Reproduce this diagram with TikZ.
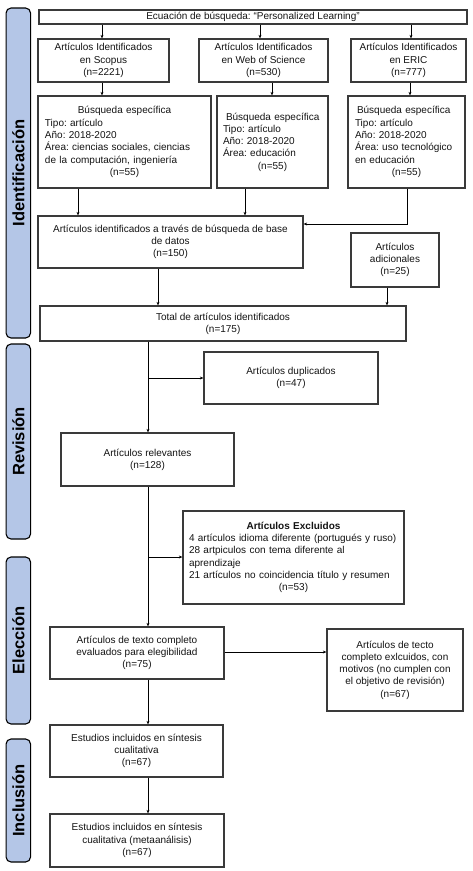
\documentclass[tikz,border=0pt]{standalone}
\usepackage{fontspec}
\setmainfont{Liberation Sans}
\usetikzlibrary{arrows.meta,calc}
\definecolor{boxgray}{HTML}{3A3A3A}
\definecolor{barblue}{HTML}{B4C6E7}
\definecolor{txtcol}{HTML}{141414}
\frenchspacing
\begin{document}
\frenchspacing
\begin{tikzpicture}[x=1pt,y=-1pt,
  box/.style={draw=boxgray,line width=1.3pt,inner sep=0pt,align=center,text=txtcol,
    font=\fontsize{10}{12.3}\selectfont},
  mixbox/.style={draw=boxgray,line width=1.3pt,inner sep=0pt,text=txtcol,
    font=\fontsize{10}{12.3}\selectfont},
  bar/.style={draw=black,line width=1.1pt,fill=barblue,rounded corners=5pt,rotate=90,
    inner sep=0pt,font=\bfseries\fontsize{16.5}{16.5}\selectfont},
  arr/.style={draw=black,line width=0.9pt,-{Stealth[length=3.5pt,width=3pt]}},
  ln/.style={draw=black,line width=0.9pt}]
\useasboundingbox (0,0) rectangle (472,871);
\fill[white] (0,0) rectangle (472,871);

% side bars
\node[bar,minimum width=330pt,minimum height=24.5pt] (b1) at (18.3,173) {Identificación};
\node[bar,minimum width=195pt,minimum height=24.5pt] (b2) at (18.3,441.5) {Revisión};
\node[bar,minimum width=167pt,minimum height=24.5pt] (b3) at (18.3,640.5) {Elección};
\node[bar,minimum width=123pt,minimum height=24.5pt] (b4) at (18.3,800.5) {Inclusión};

% boxes
\node[box,minimum width=428pt,minimum height=14pt] (top) at (253,17) {Ecuación de búsqueda: “Personalized Learning”};
\node[box,minimum width=131pt,minimum height=43pt] (sc) at (103.5,60.5) {Artículos Identificados\\en Scopus\\(n=2221)};
\node[box,minimum width=129pt,minimum height=43pt] (ws) at (263.5,60.5) {Artículos Identificados\\en Web of Science\\(n=530)};
\node[box,minimum width=115pt,minimum height=43pt] (er) at (408.5,60.5) {Artículos Identificados\\en ERIC\\(n=777)};

\node[mixbox,minimum width=173pt,minimum height=92pt,text width=159pt] (bs) at (124.5,142)
 {\parindent0pt\frenchspacing\centering Búsqueda específica\par\raggedright Tipo: artículo\par Año: 2018-2020\par Área: ciencias sociales, ciencias\par de la computación, ingeniería\par\centering (n=55)\par};
\node[mixbox,minimum width=111pt,minimum height=92pt,text width=99pt] (bw) at (272.5,142)
 {\parindent0pt\frenchspacing\raggedright\hspace*{3pt}Búsqueda específica\par Tipo: artículo\par Año: 2018-2020\par Área: educación\par\centering (n=55)\par};
\node[mixbox,minimum width=117pt,minimum height=92pt,text width=103pt] (be) at (406.5,142)
 {\parindent0pt\frenchspacing\raggedright\hspace*{2pt}Búsqueda específica\par Tipo: artículo\par Año: 2018-2020\par Área: uso tecnológico\par en educación\par\centering (n=55)\par};

\node[box,minimum width=265pt,minimum height=52pt] (db) at (170.5,242) {Artículos identificados a través de búsqueda de base\\de datos\\(n=150)};
\node[box,minimum width=88pt,minimum height=54pt] (ad) at (395,260) {Artículos\\adicionales\\(n=25)};
\node[box,minimum width=366pt,minimum height=35pt] (tot) at (223,323.5) {Total de artículos identificados\\(n=175)};

\node[box,minimum width=174pt,minimum height=52pt] (dup) at (291,378) {Artículos duplicados\\(n=47)};
\node[box,minimum width=173pt,minimum height=53pt] (rel) at (147.5,459.5) {Artículos relevantes\\(n=128)};
\node[mixbox,minimum width=221pt,minimum height=93pt,text width=209pt] (exc) at (293.5,557.5)
 {\parindent0pt\frenchspacing\centering\textbf{Artículos Excluidos}\par\raggedright 4 artículos idioma diferente (portugués y ruso)\par 28 artpiculos con tema diferente al\par aprendizaje\par 21 artículos no coincidencia título y resumen\par\centering (n=53)\par};

\node[box,minimum width=174pt,minimum height=52pt] (txt) at (137,653) {Artículos de texto completo\\evaluados para elegibilidad\\(n=75)};
\node[box,minimum width=136pt,minimum height=82pt] (rx) at (395,670) {Artículos de tecto\\completo exlcuidos, con\\motivos (no cumplen con\\el objetivo de revisión)\\(n=67)};
\node[box,minimum width=173pt,minimum height=52pt] (est) at (136.5,751) {Estudios incluidos en síntesis\\cualitativa\\(n=67)};
\node[box,minimum width=174pt,minimum height=53pt] (fin) at (137,840.5) {Estudios incluidos en síntesis\\cualitativa (metaanálisis)\\(n=67)};

% column coordinates
\coordinate (c1) at (102,0);
\coordinate (c2) at (260,0);
\coordinate (c3) at (411,0);
\coordinate (c4) at (272,0);
\coordinate (c5) at (410,0);
\coordinate (c6) at (78,0);
\coordinate (c7) at (245,0);
\coordinate (c8) at (407,0);
\coordinate (c9) at (158,0);
\coordinate (c10) at (387,0);
\coordinate (sp) at (148,0);
\coordinate (r1) at (0,224);
\coordinate (r2) at (0,378);
\coordinate (r3) at (0,557);
\coordinate (r4) at (0,652);

% connectors
\draw[arr] (top.south -| c1) -- (sc.north -| c1);
\draw[arr] (top.south -| c2) -- (ws.north -| c2);
\draw[arr] (top.south -| c3) -- (er.north -| c3);
\draw[arr] (sc.south -| c1) -- (bs.north -| c1);
\draw[arr] (ws.south -| c4) -- (bw.north -| c4);
\draw[arr] (er.south -| c5) -- (be.north -| c5);
\draw[arr] (bs.south -| c6) -- (db.north -| c6);
\draw[arr] (bw.south -| c7) -- (db.north -| c7);
\draw[arr] (be.south -| c8) |- (db.east |- r1);
\draw[arr] (db.south -| c9) -- (tot.north -| c9);
\draw[arr] (ad.south -| c10) -- (tot.north -| c10);
\draw[arr] (tot.south -| sp) -- (rel.north -| sp);
\draw[arr] (sp |- r2) -- (dup.west |- r2);
\draw[arr] (rel.south -| sp) -- (txt.north -| sp);
\draw[arr] (sp |- r3) -- (exc.west |- r3);
\draw[arr] (txt.east |- r4) -- (rx.west |- r4);
\draw[arr] (txt.south -| sp) -- (est.north -| sp);
\draw[arr] (est.south -| sp) -- (fin.north -| sp);
\end{tikzpicture}
\end{document}
